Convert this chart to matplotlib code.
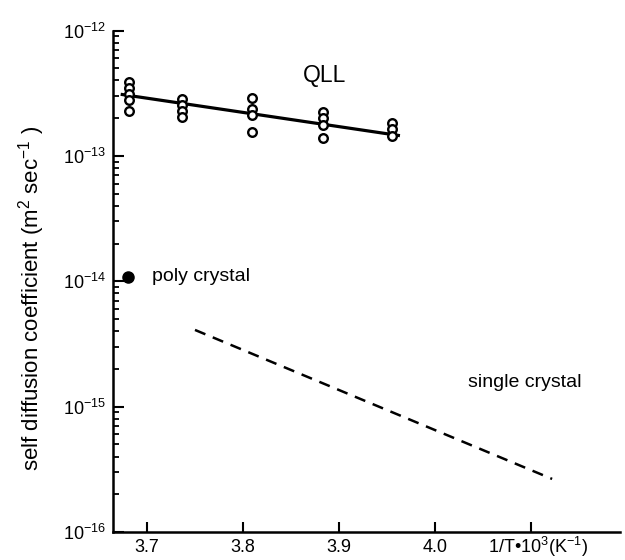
import matplotlib
matplotlib.use("Agg")
import matplotlib.pyplot as plt
import numpy as np
from matplotlib.ticker import LogLocator, FixedLocator, NullFormatter

plt.rcParams['font.family'] = ['Liberation Sans', 'DejaVu Sans']
plt.rcParams['mathtext.fontset'] = 'custom'
plt.rcParams['mathtext.rm'] = 'Liberation Sans'
plt.rcParams['mathtext.it'] = 'Liberation Sans:italic'
plt.rcParams['mathtext.default'] = 'regular'

# QLL measurements (1/T*1e3, D)
qll_x = [3.681]*5 + [3.7365]*4 + [3.809]*4 + [3.883]*4 + [3.955]*3
qll_y = [3.88e-13, 3.48e-13, 3.12e-13, 2.79e-13, 2.28e-13,
         2.85e-13, 2.55e-13, 2.28e-13, 2.04e-13,
         2.90e-13, 2.36e-13, 2.12e-13, 1.55e-13,
         2.24e-13, 2.00e-13, 1.76e-13, 1.39e-13,
         1.83e-13, 1.64e-13, 1.44e-13]

# QLL fit line endpoints
fit_x = [3.6726, 3.9635]
fit_y = [3.10e-13, 1.45e-13]

# poly crystal point
poly_x = [3.680]
poly_y = [1.08e-14]

# single crystal dashed line
single_x = [3.75, 4.122]
single_y = [4.09e-15, 2.65e-16]

xticks = [3.7, 3.8, 3.9, 4.0, 4.1]
xticklabels = ['3.7', '3.8', '3.9', '4.0', '']
xaxis_title = '1/T•10$^3$(K$^{-1}$)'
yticks = [1e-16, 1e-15, 1e-14, 1e-13, 1e-12]
yticklabels = ['10$^{-16}$', '10$^{-15}$', '10$^{-14}$', '10$^{-13}$', '10$^{-12}$']

fig = plt.figure(figsize=(6.25, 5.6), dpi=100)
ax = fig.add_axes([0.1808, 0.05, 0.992 - 0.1808, 0.9455 - 0.05])

ax.set_yscale('log')
ax.set_xlim(3.6646, 4.1927)
ax.set_ylim(1e-16, 1e-12)

ax.plot(fit_x, fit_y, color='black', lw=2.3, solid_capstyle='butt', zorder=2)
ax.plot(qll_x, qll_y, linestyle='none', marker='o', markersize=6.2,
        markerfacecolor='white', markeredgecolor='black', markeredgewidth=1.7, zorder=3)
ax.plot(poly_x, poly_y, linestyle='none', marker='o', markersize=8,
        color='black', zorder=3)
ax.plot(single_x, single_y, color='black', lw=1.8, linestyle=(0, (4.5, 3.2)), zorder=2)

ax.text(3.885, 4.4e-13, 'QLL', fontsize=16.5, ha='center', va='center')
ax.text(3.705, 1.1e-14, 'poly crystal', fontsize=14, ha='left', va='center')
ax.text(4.034, 1.55e-15, 'single crystal', fontsize=14, ha='left', va='center')

for s in ['top', 'right']:
    ax.spines[s].set_visible(False)
for s in ['left', 'bottom']:
    ax.spines[s].set_linewidth(1.8)

ax.xaxis.set_major_locator(FixedLocator(xticks))
ax.set_xticklabels(xticklabels, fontsize=13)
ax.yaxis.set_major_locator(FixedLocator(yticks))
ax.set_yticklabels(yticklabels, fontsize=13)
ax.yaxis.set_minor_locator(LogLocator(base=10, subs=np.arange(2, 10), numticks=20))
ax.yaxis.set_minor_formatter(NullFormatter())

ax.tick_params(axis='x', which='major', direction='in', length=7, width=1.5, pad=5)
ax.tick_params(axis='y', which='major', direction='in', length=8, width=1.5, pad=5)
ax.tick_params(axis='y', which='minor', direction='in', length=4, width=1.3)

# x-axis title sits in place of the 4.1 tick label
fig.text(538 / 625, 1 - 553 / 560, xaxis_title, fontsize=13, ha='center', va='baseline')

ax.set_ylabel('self diffusion coefficient (m$^2$ sec$^{-1}$ )', fontsize=16, labelpad=8)
ax.yaxis.set_label_coords(-0.13, 0.465)

fig.savefig('out.png', dpi=100)
